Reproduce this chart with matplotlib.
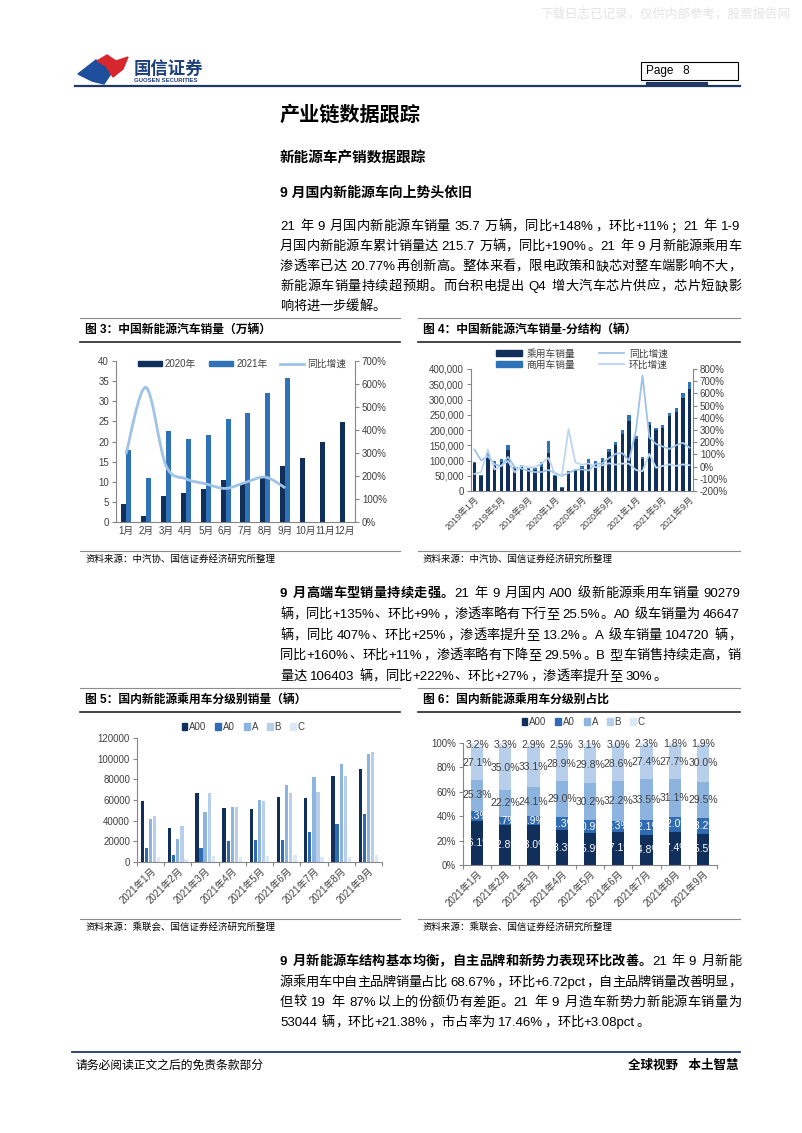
import numpy as np
import matplotlib
matplotlib.use("Agg")
import matplotlib.pyplot as plt
from matplotlib.path import Path
from matplotlib.patches import PathPatch, Rectangle, Polygon, Patch
from matplotlib.lines import Line2D
from matplotlib.ticker import FuncFormatter, FixedLocator

plt.rcParams['font.family'] = ['Liberation Sans', 'Noto Sans CJK SC', 'DejaVu Sans']

# ---------------- data ----------------
# fig 3: monthly NEV sales (10k units)
months3 = ['1月', '2月', '3月', '4月', '5月', '6月', '7月', '8月', '9月', '10月', '11月', '12月']
sales_2020 = [4.5, 1.6, 6.4, 7.2, 8.2, 10.4, 9.8, 10.9, 13.8, 16.0, 20.0, 24.8]
sales_2021 = [17.9, 11.0, 22.6, 20.6, 21.7, 25.6, 27.1, 32.1, 35.7]
yoy_2021 = [2.95, 5.85, 2.47, 1.88, 1.66, 1.46, 1.72, 1.95, 1.48]

# fig 4: passenger / commercial, 2019-01 .. 2021-09
passenger = [91000, 49000, 110000, 87000, 96000, 135000, 72000, 78000, 73000, 69000, 79000, 124000,
             50000, 11000, 60000, 66000, 76000, 95000, 93000, 100000, 129000, 150000, 187000, 228000,
             170000, 104000, 216000, 199000, 208000, 245000, 260000, 305000, 334000]
commercial = [5000, 4000, 16000, 10000, 8000, 17000, 8000, 7000, 7000, 6000, 16000, 39000,
              4000, 2000, 4000, 6000, 6000, 9000, 5000, 9000, 9000, 10000, 13000, 20000,
              9000, 6000, 10000, 7000, 9000, 11000, 11000, 16000, 23000]
yoy4 = [1.40, 0.50, 0.86, 0.18, 0.04, 0.80, -0.05, -0.16, -0.34, -0.45, -0.44, -0.28,
        -0.54, -0.76, -0.53, -0.26, -0.23, -0.32, 0.22, 0.27, 0.70, 1.05, 1.10, 0.50,
        2.90, 7.46, 2.40, 1.85, 1.65, 1.45, 1.75, 1.95, 1.55]
mom4 = [-0.60, -0.45, 1.38, -0.23, 0.07, 0.46, -0.47, 0.06, -0.06, -0.06, 0.27, 0.72,
        -0.65, -0.77, 3.08, 0.36, 0.14, 0.27, -0.06, 0.11, 0.27, 0.16, 0.25, 0.24,
        -0.28, -0.38, 1.05, -0.09, 0.05, 0.18, 0.06, 0.18, 0.11]
ticklabels4 = ['2019年1月', '2019年5月', '2019年9月', '2020年1月', '2020年5月',
               '2020年9月', '2021年1月', '2021年5月', '2021年9月']

# fig 5 / 6: passenger NEV by class, 2021-01 .. 2021-09
months56 = ['2021年1月', '2021年2月', '2021年3月', '2021年4月', '2021年5月',
            '2021年6月', '2021年7月', '2021年8月', '2021年9月']
classes = ['A00', 'A0', 'A', 'B', 'C']
vol_A00 = [59500, 33000, 66500, 52000, 51500, 63000, 61500, 83000, 90279]
vol_A0 = [13500, 6500, 14000, 20500, 21500, 21500, 29500, 36500, 46647]
vol_A = [41500, 22000, 48500, 53000, 60000, 75000, 82500, 94500, 104720]
vol_B = [44500, 35000, 66500, 53000, 59000, 66500, 67500, 83500, 106403]
vol_C = [4800, 3000, 5800, 4500, 6000, 6500, 5000, 5000, 6300]
share_A00 = [36.1, 32.8, 33.0, 28.3, 25.9, 27.1, 24.8, 27.4, 25.5]
share_A0 = [8.3, 6.7, 6.9, 11.3, 10.9, 9.3, 12.1, 12.0, 13.2]
share_A = [25.3, 22.2, 24.1, 29.0, 30.2, 32.2, 33.5, 31.1, 29.5]
share_B = [27.1, 35.0, 33.1, 28.9, 29.8, 28.6, 27.4, 27.7, 30.0]
share_C = [3.2, 3.3, 2.9, 2.5, 3.1, 3.0, 2.3, 1.8, 1.9]

# colours
c_navy = '#112f5b'
c_blue = '#2f72b8'
c_line = '#9fc3e7'
c_line2 = '#bcd6f0'
class_colors = ['#112f5b', '#2f6cb3', '#8db3df', '#b7cfeb', '#dce8f5']
c_axis = '#868686'
c_tick = '#404040'

W, H = 802, 1133
fig = plt.figure(figsize=(W / 100, H / 100), dpi=100)
renderer = fig.canvas.get_renderer()


def fx(x):
    return x / W


def fy(y):
    return 1 - y / H


def pax(l, t, r, b):
    return fig.add_axes([fx(l), fy(b), (r - l) / W, (b - t) / H])


def hline(x0, x1, y, color, lw):
    fig.add_artist(Line2D([fx(x0), fx(x1)], [fy(y), fy(y)], color=color, lw=lw,
                          transform=fig.transFigure))


def ftext(x, y, s, size, weight='normal', ha='left', va='center', color='black', **kw):
    return fig.text(fx(x), fy(y), s, fontsize=size, fontweight=weight, ha=ha, va=va,
                    color=color, **kw)


# --- justified paragraph lines, token by token
_wcache = {}


def ink_width(s, size, weight):
    key = (s, size, weight)
    if key not in _wcache:
        t = fig.text(0, 0, s, fontsize=size, fontweight=weight)
        _wcache[key] = t.get_window_extent(renderer).width
        t.remove()
    return _wcache[key]


def tokens(s):
    out, cur = [], ''
    for ch in s:
        if ch != ' ' and ord(ch) < 128:
            cur += ch
        else:
            if cur:
                out.append(cur)
                cur = ''
            out.append(ch)
    if cur:
        out.append(cur)
    return out


def para_line(segs, y, size=9.5, justify=True, x0=280, x1=741):
    em = size * 100 / 72
    toks = []
    for s, wt in segs:
        for t in tokens(s):
            if t == ' ':
                w = 0.28 * em
            elif ord(t[0]) >= 128:
                w = em
            else:
                w = ink_width(t, size, wt) + 0.08 * em
            toks.append((t, wt, w))
    total = sum(w for _, _, w in toks)
    gap = (x1 - x0 - total) / (len(toks) - 1) if justify and len(toks) > 1 else 0
    x = x0
    base = y + 0.36 * em
    for t, wt, w in toks:
        if t != ' ':
            fig.text(fx(x), fy(base), t, fontsize=size, fontweight=wt, ha='left', va='baseline')
        x += w + gap


def style_axes(ax, right=False):
    ax.spines['top'].set_visible(False)
    ax.spines['right'].set_visible(right)
    for sp in ['left', 'bottom', 'right']:
        ax.spines[sp].set_color(c_axis)
        ax.spines[sp].set_linewidth(0.8)
    ax.tick_params(axis='both', labelsize=7, colors=c_axis, labelcolor=c_tick,
                   length=3, width=0.8, direction='out', pad=2)
    ax.tick_params(axis='x', which='major', length=0, pad=3)


def boundary_ticks(ax, n):
    ax.xaxis.set_minor_locator(FixedLocator(np.arange(n + 1) - 0.5))
    ax.tick_params(axis='x', which='minor', length=3, width=0.8, colors=c_axis)


def smooth_path(xs, ys):
    pts = np.column_stack([np.asarray(xs, float), np.asarray(ys, float)])
    n = len(pts)
    verts, codes = [pts[0]], [Path.MOVETO]
    for i in range(n - 1):
        p0, p1, p2, p3 = pts[max(i - 1, 0)], pts[i], pts[i + 1], pts[min(i + 2, n - 1)]
        verts += [p1 + (p2 - p0) / 6, p2 - (p3 - p1) / 6, p2]
        codes += [Path.CURVE4] * 3
    return Path(verts, codes)


pct = FuncFormatter(lambda v, p: f'{v * 100:.0f}%')

# ---------------- page header ----------------
ftext(540, 14, '下载日志已记录，仅供内部参考，股票报告网', 9, color='#e4e4e4')
fig.add_artist(Polygon([(fx(x), fy(y)) for x, y in
                        [(78, 74), (96, 60), (104, 64), (112, 72), (104, 84), (92, 81)]],
                       closed=True, color='#1d4f9c', transform=fig.transFigure))
fig.add_artist(Polygon([(fx(x), fy(y)) for x, y in
                        [(97, 61), (107, 55), (116, 61), (128, 57), (123, 69), (113, 77), (106, 66)]],
                       closed=True, color='#d7262e', transform=fig.transFigure))
ftext(134, 68, '国信证券', 12.5, 'bold', color='#1d3f7a')
ftext(134, 81, 'GUOSEN SECURITIES', 4.3, 'bold', color='#1d3f7a')
hline(75, 740, 86, '#1f3864', 1.6)
fig.add_artist(Rectangle((fx(641), fy(80)), (738 - 641) / W, 18 / H, fill=False,
                         edgecolor='black', lw=0.8, transform=fig.transFigure))
ftext(646, 71, 'Page   8', 8.5)
hline(648, 706, 84, '#1f3864', 3)

ftext(280, 115, '产业链数据跟踪', 14.5, 'bold')
ftext(280, 158, '新能源车产销数据跟踪', 10.5, 'bold')
ftext(280, 193, '9 月国内新能源车向上势头依旧', 10, 'bold')

N = 'normal'
B = 'bold'
para_line([('21 年 9 月国内新能源车销量 35.7 万辆，同比+148%，环比+11%；21 年 1-9', N)], 225)
para_line([('月国内新能源车累计销量达 215.7 万辆，同比+190%。21 年 9 月新能源乘用车', N)], 245)
para_line([('渗透率已达 20.77%再创新高。整体来看，限电政策和缺芯对整车端影响不大，', N)], 265)
para_line([('新能源车销量持续超预期。而台积电提出 Q4 增大汽车芯片供应，芯片短缺影', N)], 285)
para_line([('响将进一步缓解。', N)], 305, justify=False)

para_line([('9 月高端车型销量持续走强。', B), ('21 年 9 月国内 A00 级新能源乘用车销量 90279', N)], 592)
para_line([('辆，同比+135%、环比+9%，渗透率略有下行至 25.5%。A0 级车销量为 46647', N)], 613)
para_line([('辆，同比 407%、环比+25%，渗透率提升至 13.2%。A 级车销量 104720 辆，', N)], 634)
para_line([('同比+160%、环比+11%，渗透率略有下降至 29.5%。B 型车销售持续走高，销', N)], 654)
para_line([('量达 106403 辆，同比+222%、环比+27%，渗透率提升至 30%。', N)], 675, justify=False)

para_line([('9 月新能源车结构基本均衡，自主品牌和新势力表现环比改善。', B), ('21 年 9 月新能', N)], 960)
para_line([('源乘用车中自主品牌销量占比 68.67%，环比+6.72pct，自主品牌销量改善明显，', N)], 981)
para_line([('但较 19 年 87%以上的份额仍有差距。21 年 9 月造车新势力新能源车销量为', N)], 1001)
para_line([('53044 辆，环比+21.38%，市占率为 17.46%，环比+3.08pct。', N)], 1021, justify=False)

# chart title boxes and sources
for (x0, x1, y0, title, src) in [
        (80, 400, 318, '图 3：中国新能源汽车销量（万辆）', '资料来源：中汽协、国信证券经济研究所整理'),
        (418, 740, 318, '图 4：中国新能源汽车销量-分结构（辆）', '资料来源：中汽协、国信证券经济研究所整理'),
        (80, 400, 688, '图 5：国内新能源乘用车分级别销量（辆）', '资料来源：乘联会、国信证券经济研究所整理'),
        (418, 740, 688, '图 6：国内新能源乘用车分级别占比', '资料来源：乘联会、国信证券经济研究所整理')]:
    hline(x0, x1, y0, '#8c8c8c', 0.8)
    ftext(x0 + 5, y0 + 12, title, 8.5, 'bold')
    hline(x0, x1, y0 + 24, '#262626', 1.2)
    ys = 551 if y0 < 500 else 919
    hline(x0, x1, ys, '#8c8c8c', 0.8)
    ftext(x0 + 5, ys + 8, src, 6.8)

# footer
hline(72, 740, 1052, '#1f3864', 1.3)
ftext(75, 1066, '请务必阅读正文之后的免责条款部分', 8.5)
ftext(738, 1066, '全球视野   本土智慧', 9, 'bold', ha='right', fontstyle='italic')

# ---------------- fig 3 ----------------
ax3 = pax(116, 361, 355, 522)
x3 = np.arange(len(months3))
ax3.bar(x3 - 0.125, sales_2020, width=0.25, color=c_navy, zorder=2)
ax3.bar(x3[:len(sales_2021)] + 0.125, sales_2021, width=0.25, color=c_blue, zorder=2)
ax3.set_xlim(-0.5, len(months3) - 0.5)
ax3.set_ylim(0, 40)
ax3.set_yticks(np.arange(0, 41, 5))
ax3.set_xticks(x3)
ax3.set_xticklabels(months3)
style_axes(ax3)
ax3r = ax3.twinx()
ax3r.set_ylim(0, 7)
ax3r.set_yticks(np.arange(0, 8))
ax3r.yaxis.set_major_formatter(pct)
style_axes(ax3r, right=True)
ax3r.spines['left'].set_visible(False)
ax3r.spines['bottom'].set_visible(False)
ax3r.add_patch(PathPatch(smooth_path(x3[:len(yoy_2021)], yoy_2021), fill=False,
                         edgecolor=c_line, lw=2, zorder=3))
h3 = [Patch(color=c_navy), Patch(color=c_blue), Line2D([], [], color=c_line, lw=2)]
fig.legend(h3, ['2020年', '2021年', '同比增速'], loc='center', ncol=3, frameon=False,
           bbox_to_anchor=(fx(242), fy(364)), fontsize=7, handlelength=2.5, handleheight=0.5,
           columnspacing=1.3, handletextpad=0.3, labelcolor=c_tick)

# ---------------- fig 4 ----------------
ax4 = pax(471, 369, 693, 491)
x4 = np.arange(len(passenger))
ax4.bar(x4, passenger, width=0.5, color=c_navy, zorder=2)
ax4.bar(x4, commercial, bottom=passenger, width=0.5, color=c_blue, zorder=2)
ax4.set_xlim(-0.5, len(passenger) - 0.5)
ax4.set_ylim(0, 400000)
ax4.set_yticks(np.arange(0, 400001, 50000))
ax4.yaxis.set_major_formatter(FuncFormatter(lambda v, p: f'{v:,.0f}'))
ax4.set_xticks(x4[::4])
ax4.set_xticklabels(ticklabels4, rotation=45, ha='right', rotation_mode='anchor')
style_axes(ax4)
ax4.tick_params(axis='x', labelsize=6.5)
ax4r = ax4.twinx()
ax4r.set_ylim(-2, 8)
ax4r.set_yticks(np.arange(-2, 9))
ax4r.yaxis.set_major_formatter(pct)
style_axes(ax4r, right=True)
ax4r.spines['left'].set_visible(False)
ax4r.spines['bottom'].set_visible(False)
ax4r.plot(x4, yoy4, color=c_line, lw=1.3, zorder=3)
ax4r.plot(x4, mom4, color=c_line2, lw=1.3, zorder=3)
h4 = [Patch(color=c_navy), Patch(color=c_blue),
      Line2D([], [], color=c_line, lw=1.3), Line2D([], [], color=c_line2, lw=1.3)]
fig.legend(h4, ['乘用车销量', '商用车销量', '同比增速', '环比增速'], loc='center', ncol=2,
           frameon=False, bbox_to_anchor=(fx(582), fy(359)), fontsize=7, handlelength=2.6,
           handleheight=0.6, columnspacing=2.4, handletextpad=0.5, labelspacing=0.1,
           labelcolor=c_tick)

# ---------------- fig 5 ----------------
ax5 = pax(137, 738, 382, 862)
x5 = np.arange(len(months56))
for k, vals in enumerate([vol_A00, vol_A0, vol_A, vol_B, vol_C]):
    ax5.bar(x5 + (k - 2) * 0.15, vals, width=0.12, color=class_colors[k], zorder=2)
ax5.set_xlim(-0.5, len(months56) - 0.5)
ax5.set_ylim(0, 120000)
ax5.set_yticks(np.arange(0, 120001, 20000))
ax5.set_xticks(x5)
ax5.set_xticklabels(months56, rotation=45, ha='right', rotation_mode='anchor')
style_axes(ax5)
boundary_ticks(ax5, len(months56))
h5 = [Patch(color=c) for c in class_colors]
fig.legend(h5, classes, loc='center', ncol=5, frameon=False, bbox_to_anchor=(fx(243), fy(727)),
           fontsize=7, handlelength=0.6, handleheight=0.6, columnspacing=0.9, handletextpad=0.2,
           labelcolor=c_tick)

# ---------------- fig 6 ----------------
ax6 = pax(463, 743, 717, 865)
x6 = np.arange(len(months56))
bottom = np.zeros(len(months56))
for k, vals in enumerate([share_A00, share_A0, share_A, share_B, share_C]):
    vals = np.asarray(vals) / 100
    ax6.bar(x6, vals, bottom=bottom, width=0.43, color=class_colors[k], zorder=2)
    tc = 'white' if k < 2 else c_tick
    for xi, b, v in zip(x6, bottom, vals):
        ax6.text(xi, b + v / 2, f'{v * 100:.1f}%', ha='center', va='center', fontsize=7.5,
                 color=tc, zorder=4, clip_on=False)
    bottom = bottom + vals
ax6.set_xlim(-0.5, len(months56) - 0.5)
ax6.set_ylim(0, 1)
ax6.set_yticks(np.arange(0, 1.01, 0.2))
ax6.yaxis.set_major_formatter(pct)
ax6.set_xticks(x6)
ax6.set_xticklabels(months56, rotation=45, ha='right', rotation_mode='anchor')
style_axes(ax6)
boundary_ticks(ax6, len(months56))
fig.legend(h5, classes, loc='center', ncol=5, frameon=False, bbox_to_anchor=(fx(583), fy(722)),
           fontsize=7, handlelength=0.6, handleheight=0.6, columnspacing=0.9, handletextpad=0.2,
           labelcolor=c_tick)

fig.savefig('out.png', dpi=100)
